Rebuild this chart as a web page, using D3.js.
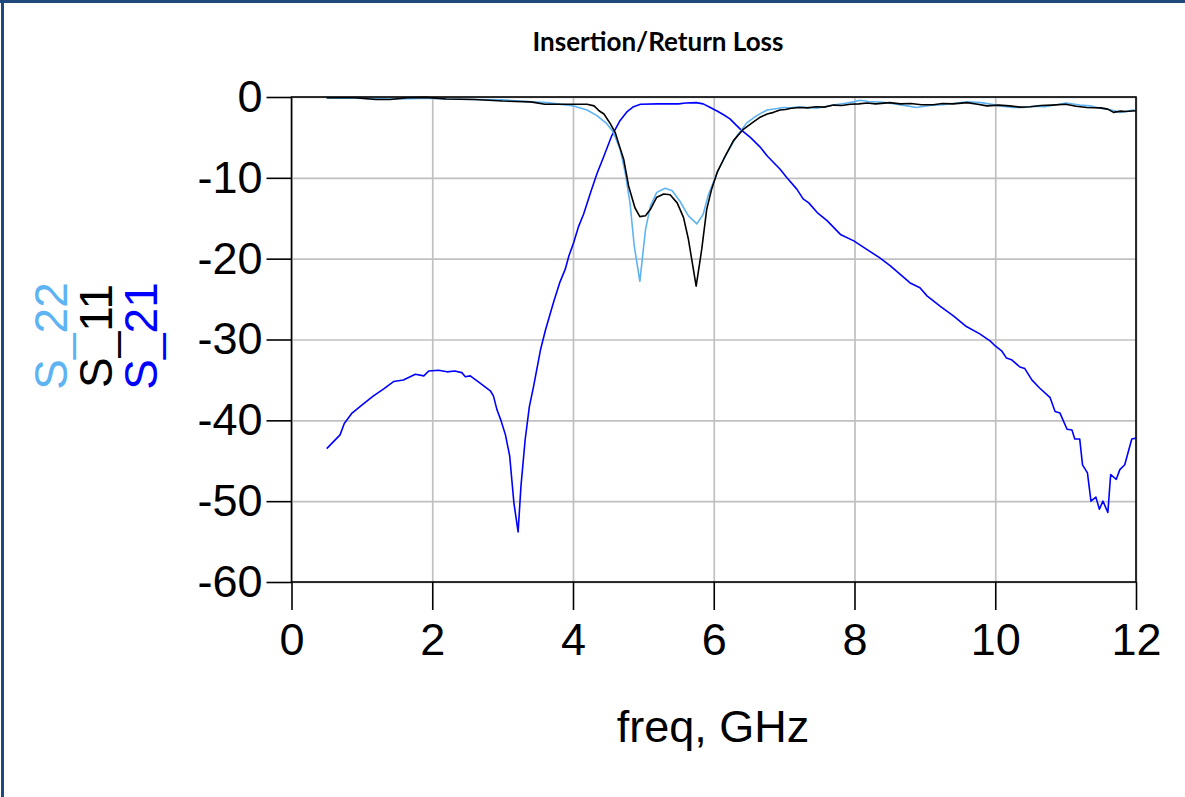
<!DOCTYPE html>
<html>
<head>
<meta charset="utf-8">
<script src="https://cdn.jsdelivr.net/npm/d3@7"></script>
<style>
  html, body { margin: 0; padding: 0; background: #fff; }
  svg { display: block; }
</style>
</head>
<body>
<svg id="chart" width="1185" height="797"></svg>
<script>
// ---------- data ----------
const title = "Insertion/Return Loss";
const xLabel = "freq, GHz";
const xTicks = [0, 2, 4, 6, 8, 10, 12];
const yTicks = [0, -10, -20, -30, -40, -50, -60];

const freqS21 = [0.5, 0.69, 0.75, 0.86, 1.03, 1.16, 1.31, 1.45, 1.59, 1.76, 1.88, 1.95, 2.09, 2.21, 2.32, 2.42, 2.47, 2.54, 2.68, 2.83, 2.87, 2.92, 2.98, 3.04, 3.10, 3.16, 3.22, 3.26, 3.32, 3.38, 3.44, 3.54, 3.61, 3.68, 3.73, 3.81, 3.89, 3.94, 4.01, 4.08, 4.15, 4.25, 4.34, 4.44, 4.55, 4.67, 4.77, 4.86, 4.96, 5.2, 5.5, 5.6, 5.75, 5.85, 5.93, 6.04, 6.14, 6.23, 6.38, 6.52, 6.66, 6.76, 6.94, 7.04, 7.18, 7.27, 7.35, 7.47, 7.61, 7.80, 7.99, 8.13, 8.36, 8.51, 8.79, 8.93, 9.03, 9.22, 9.41, 9.59, 9.78, 9.93, 10.0, 10.09, 10.16, 10.23, 10.35, 10.42, 10.52, 10.63, 10.78, 10.85, 10.92, 11.02, 11.09, 11.13, 11.2, 11.24, 11.31, 11.36, 11.43, 11.48, 11.53, 11.6, 11.64, 11.72, 11.77, 11.84, 11.94, 12.0];
const s21 = [-43.5, -41.8, -40.4, -39.1, -37.9, -37.0, -36.1, -35.2, -35.0, -34.3, -34.5, -33.9, -33.8, -34.0, -33.9, -34.1, -34.6, -34.5, -35.4, -36.4, -37.0, -38.7, -40.1, -41.8, -44.4, -50.2, -53.8, -48.2, -42.4, -38.3, -35.8, -31.2, -28.8, -26.7, -25.2, -23.0, -21.3, -19.7, -18.0, -16.0, -14.5, -11.8, -9.5, -7.3, -4.8, -2.9, -1.8, -1.2, -0.9, -0.85, -0.85, -0.75, -0.7, -0.85, -1.2, -1.7, -2.2, -2.7, -4.0, -5.0, -6.2, -7.3, -8.9, -10.0, -11.4, -12.6, -13.1, -14.3, -15.3, -17.0, -17.8, -18.6, -19.9, -20.9, -23.0, -23.6, -24.6, -25.9, -27.1, -28.4, -29.3, -30.2, -30.8, -31.4, -32.3, -32.5, -33.4, -33.6, -35.0, -36.0, -37.2, -38.9, -39.1, -41.1, -41.2, -42.3, -42.3, -45.5, -46.5, -50.0, -49.5, -51.0, -50.0, -51.4, -46.7, -47.3, -46.1, -45.5, -42.3, -42.2];

const freqS11 = [0.5, 0.9, 1.2, 1.4, 1.65, 1.9, 2.2, 2.6, 3.0, 3.4, 3.6, 3.9, 4.2, 4.3, 4.37, 4.44, 4.53, 4.6, 4.65, 4.72, 4.79, 4.88, 4.95, 5.03, 5.1, 5.19, 5.29, 5.38, 5.48, 5.57, 5.64, 5.75, 5.83, 5.9, 5.97, 6.05, 6.14, 6.28, 6.42, 6.56, 6.66, 6.76, 6.85, 6.94, 7.02, 7.1, 7.23, 7.33, 7.45, 7.57, 7.7, 7.82, 7.94, 8.06, 8.18, 8.3, 8.5, 8.65, 8.8, 8.95, 9.12, 9.25, 9.4, 9.6, 9.75, 9.88, 10.05, 10.2, 10.35, 10.5, 10.65, 10.8, 11.0, 11.15, 11.3, 11.5, 11.6, 11.68, 11.78, 11.85, 12.0];
const s11 = [-0.1, -0.1, -0.3, -0.3, -0.1, -0.05, -0.25, -0.3, -0.5, -0.6, -0.9, -0.9, -0.9, -1.1, -1.7, -2.1, -3.3, -4.4, -5.8, -7.7, -11.0, -13.7, -14.8, -14.7, -13.9, -12.4, -12.0, -12.1, -13.1, -14.9, -17.6, -23.4, -18.8, -13.9, -11.4, -9.3, -7.7, -5.4, -4.0, -3.1, -2.5, -2.1, -1.9, -1.6, -1.55, -1.4, -1.3, -1.35, -1.2, -1.25, -1.0, -1.05, -0.9, -0.85, -0.75, -0.85, -0.7, -0.85, -0.8, -0.95, -0.95, -0.8, -0.85, -0.7, -0.9, -1.1, -1.0, -1.1, -1.25, -1.2, -1.05, -1.0, -0.9, -1.15, -1.3, -1.35, -1.5, -1.9, -1.75, -1.8, -1.7];

const freqS22 = [0.5, 0.9, 1.2, 1.4, 1.7, 1.9, 2.2, 2.6, 3.0, 3.4, 3.63, 4.01, 4.2, 4.34, 4.48, 4.57, 4.67, 4.74, 4.81, 4.87, 4.95, 5.03, 5.1, 5.19, 5.31, 5.41, 5.52, 5.64, 5.76, 5.85, 5.92, 6.05, 6.19, 6.33, 6.47, 6.61, 6.76, 6.88, 6.99, 7.1, 7.2, 7.33, 7.46, 7.58, 7.7, 7.85, 7.99, 8.08, 8.2, 8.41, 8.6, 8.75, 8.88, 9.0, 9.12, 9.25, 9.4, 9.6, 9.8, 9.95, 10.07, 10.25, 10.4, 10.55, 10.7, 10.85, 11.01, 11.2, 11.35, 11.49, 11.65, 11.77, 11.88, 11.96, 12.0];
const s22 = [-0.15, -0.15, -0.2, -0.25, -0.2, -0.15, -0.25, -0.3, -0.35, -0.6, -0.7, -1.1, -1.6, -2.3, -3.3, -4.3, -6.5, -9.3, -13.1, -18.4, -22.8, -16.4, -13.5, -11.8, -11.3, -11.6, -12.9, -14.7, -15.7, -14.5, -12.2, -9.3, -6.9, -4.8, -3.2, -2.3, -1.6, -1.45, -1.3, -1.35, -1.2, -1.3, -1.4, -1.2, -1.0, -0.8, -0.6, -0.4, -0.55, -0.65, -0.9, -1.1, -1.3, -1.15, -1.0, -0.95, -0.8, -0.6, -0.7, -0.9, -1.1, -1.3, -1.3, -1.15, -1.2, -1.0, -0.75, -1.0, -1.1, -1.4, -1.6, -1.9, -1.75, -1.6, -1.7];

const seriesNames = ["S_22", "S_11", "S_21"];
const seriesColors = ["#5eb3f3", "#000000", "#0000ff"];

// ---------- drawing ----------
const svg = d3.select("#chart");
const W = 1185, H = 797;
const pL = 291.5, pR = 1136, pT = 97, pB = 582;
const x = d3.scaleLinear().domain([0, 12]).range([pL, pR]);
const y = d3.scaleLinear().domain([0, -60]).range([pT, pB]);
const font = "'Liberation Sans', Arial, sans-serif";

svg.append("rect").attr("width", W).attr("height", H).attr("fill", "#fff");

// outer frame (top and left edges)
svg.append("rect").attr("x", 0).attr("y", 0).attr("width", W).attr("height", 3).attr("fill", "#1f497d");
svg.append("rect").attr("x", 1).attr("y", 0).attr("width", 3).attr("height", H).attr("fill", "#1f497d");

// title
svg.append("text").attr("x", 658).attr("y", 51).attr("text-anchor", "middle")
  .style("font-family", "Lato, 'Open Sans', sans-serif").style("font-weight", "bold")
  .style("font-size", "26px").text(title);

// grid
const gridX = svg.append("g").attr("transform", `translate(0,${pB})`)
  .call(d3.axisBottom(x).tickValues(xTicks).tickSize(-(pB - pT)).tickFormat(""));
const gridY = svg.append("g").attr("transform", `translate(${pL},0)`)
  .call(d3.axisLeft(y).tickValues(yTicks).tickSize(-(pR - pL)).tickFormat(""));
[gridX, gridY].forEach(g => {
  g.select(".domain").remove();
  g.selectAll("line").attr("stroke", "#c0c0c0").attr("stroke-width", 1.7);
});

// curves
const clipId = "plotclip";
svg.append("clipPath").attr("id", clipId).append("rect")
  .attr("x", pL).attr("y", pT - 2).attr("width", pR - pL).attr("height", pB - pT + 2);
const line = d3.line().x(d => x(d[0])).y(d => y(d[1]));
const curves = [
  { f: freqS21, v: s21, c: seriesColors[2] },
  { f: freqS22, v: s22, c: seriesColors[0] },
  { f: freqS11, v: s11, c: seriesColors[1] }
];
const cg = svg.append("g").attr("clip-path", `url(#${clipId})`);
curves.forEach(s => {
  cg.append("path").datum(d3.zip(s.f, s.v))
    .attr("d", line).attr("fill", "none").attr("stroke", s.c)
    .attr("stroke-width", 1.6).attr("stroke-linejoin", "round");
});

// frame
svg.append("rect").attr("x", pL).attr("y", pT).attr("width", pR - pL).attr("height", pB - pT)
  .attr("fill", "none").attr("stroke", "#000").attr("stroke-width", 1.6);

// axes with outside ticks
const xAxis = svg.append("g").attr("transform", `translate(0,${pB})`)
  .call(d3.axisBottom(x).tickValues(xTicks).tickSize(28).tickPadding(13).tickFormat(d => String(d)));
const yAxis = svg.append("g").attr("transform", `translate(${pL},0)`)
  .call(d3.axisLeft(y).tickValues(yTicks).tickSize(25).tickPadding(4).tickFormat(d => String(d)));
[xAxis, yAxis].forEach(g => {
  g.select(".domain").remove();
  g.selectAll("line").attr("stroke", "#000").attr("stroke-width", 1.6);
  g.selectAll("text").style("font-family", font).style("font-size", "45px").attr("fill", "#000");
});

// x label
svg.append("text").attr("x", 713).attr("y", 742).attr("text-anchor", "middle")
  .style("font-family", font).style("font-size", "45px").text(xLabel);

// y label (three stacked rotated names)
const yLabX = [67, 112, 157];
seriesNames.forEach((n, i) => {
  svg.append("text")
    .attr("transform", `translate(${yLabX[i]},336) rotate(-90)`)
    .attr("text-anchor", "middle")
    .style("font-family", font).style("font-size", "46px")
    .attr("fill", seriesColors[i]).text(n);
});
</script>
</body>
</html>
